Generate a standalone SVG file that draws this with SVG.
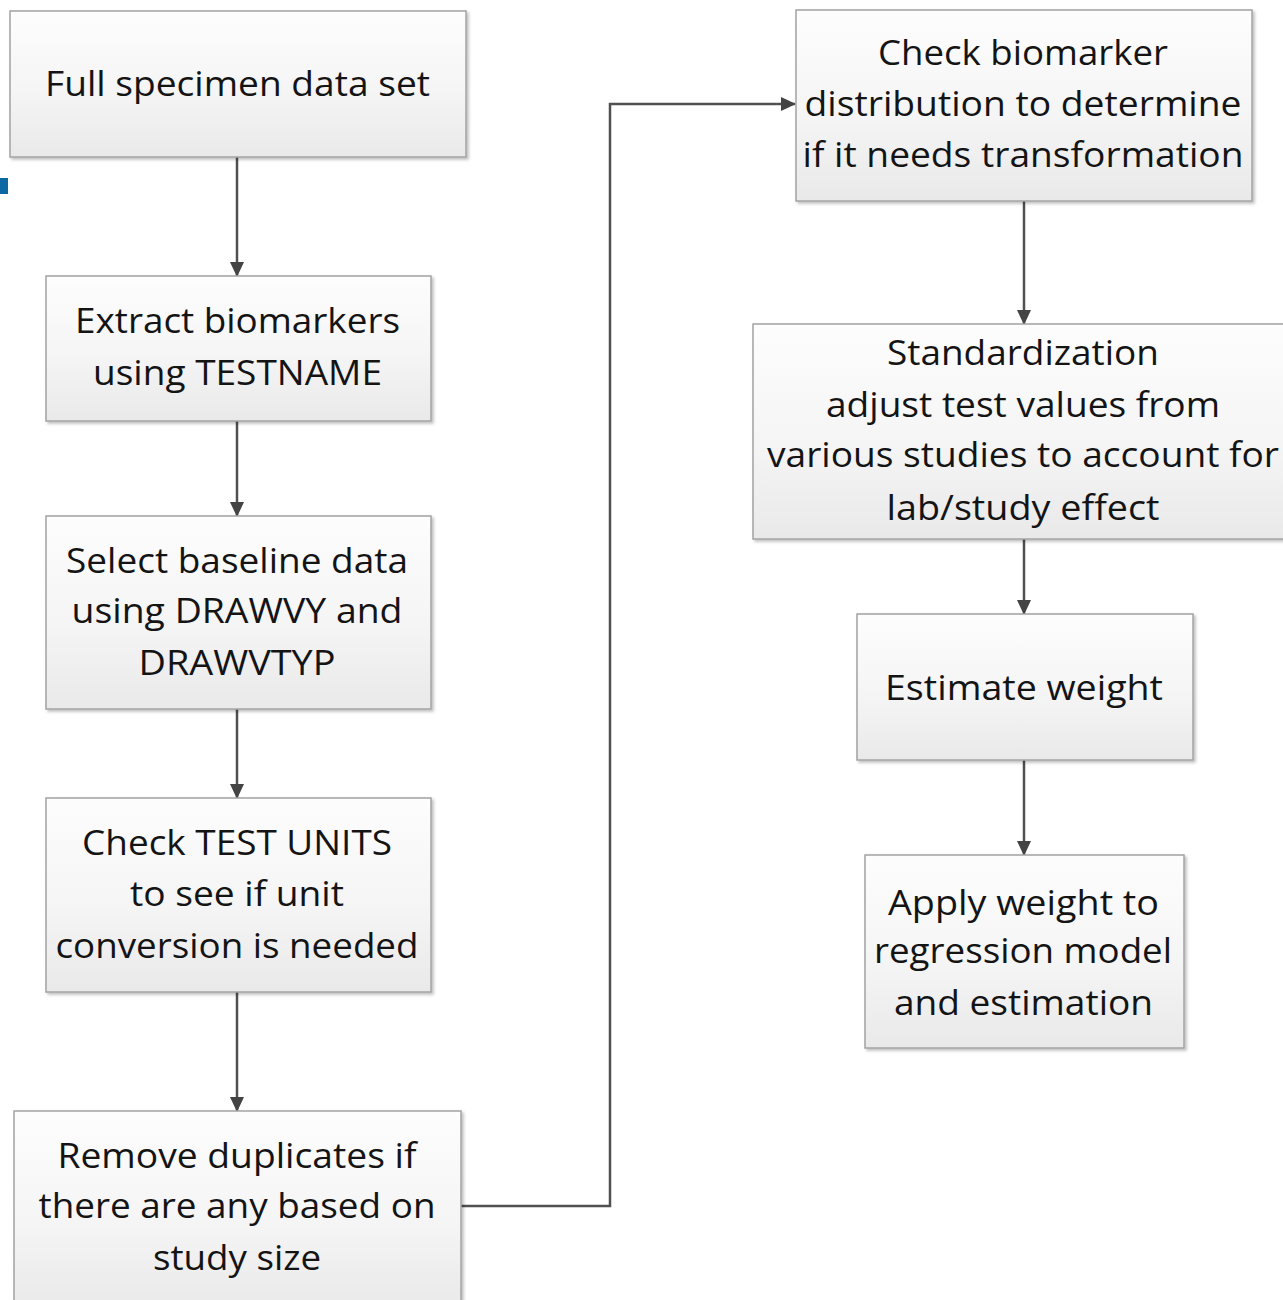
<svg xmlns="http://www.w3.org/2000/svg" width="1283" height="1300" viewBox="0 0 1283 1300">
<defs>
<linearGradient id="boxfill" x1="0" y1="0" x2="0" y2="1">
<stop offset="0" stop-color="#fdfdfd"/>
<stop offset="0.55" stop-color="#f5f5f5"/>
<stop offset="1" stop-color="#e9e9e9"/>
</linearGradient>
<filter id="shadow" x="-5%" y="-5%" width="112%" height="115%">
<feDropShadow dx="2" dy="2" stdDeviation="1.5" flood-color="#000" flood-opacity="0.25"/>
</filter>
<marker id="arrow" markerWidth="15" markerHeight="15" refX="14" refY="7" orient="auto" markerUnits="userSpaceOnUse">
<path d="M0,0 L15,7 L0,14 Z" fill="#444444"/>
</marker>
</defs>
<style>
.box{fill:url(#boxfill);stroke:#a3a3a3;stroke-width:1.5;filter:url(#shadow)}
.t{font-family:"Open Sans","Liberation Sans",sans-serif;font-size:35px;fill:#141414;text-anchor:middle}
.conn{fill:none;stroke:#505050;stroke-width:2.5;marker-end:url(#arrow)}
</style>
<rect width="1283" height="1300" fill="#ffffff"/>
<rect x="0" y="178" width="8" height="16" fill="#0b68a3"/>

<g id="connectors">
<line class="conn" x1="237" y1="157" x2="237" y2="276"/>
<line class="conn" x1="237" y1="421" x2="237" y2="516"/>
<line class="conn" x1="237" y1="709" x2="237" y2="798"/>
<line class="conn" x1="237" y1="992" x2="237" y2="1111"/>
<polyline class="conn" points="461,1206 610,1206 610,104 795,104"/>
<line class="conn" x1="1024" y1="201" x2="1024" y2="324"/>
<line class="conn" x1="1024" y1="539" x2="1024" y2="614"/>
<line class="conn" x1="1024" y1="760" x2="1024" y2="855"/>
</g>

<g id="n1">
<rect class="box" x="10" y="11" width="456" height="146"/>
<text class="t" x="237.5" y="96" textLength="385" lengthAdjust="spacingAndGlyphs">Full specimen data set</text>
</g>
<g id="n2">
<rect class="box" x="46" y="276" width="385" height="145"/>
<text class="t" x="237.5" y="333" textLength="325" lengthAdjust="spacingAndGlyphs">Extract biomarkers</text>
<text class="t" x="237.5" y="385" textLength="289" lengthAdjust="spacingAndGlyphs">using TESTNAME</text>
</g>
<g id="n3">
<rect class="box" x="46" y="516" width="385" height="193"/>
<text class="t" x="237" y="573" textLength="342" lengthAdjust="spacingAndGlyphs">Select baseline data</text>
<text class="t" x="237" y="623" textLength="331" lengthAdjust="spacingAndGlyphs">using DRAWVY and</text>
<text class="t" x="237" y="675" textLength="197" lengthAdjust="spacingAndGlyphs">DRAWVTYP</text>
</g>
<g id="n4">
<rect class="box" x="46" y="798" width="385" height="194"/>
<text class="t" x="237" y="855" textLength="310" lengthAdjust="spacingAndGlyphs">Check TEST UNITS</text>
<text class="t" x="237" y="906" textLength="214" lengthAdjust="spacingAndGlyphs">to see if unit</text>
<text class="t" x="237" y="958" textLength="363" lengthAdjust="spacingAndGlyphs">conversion is needed</text>
</g>
<g id="n5">
<rect class="box" x="14" y="1111" width="447" height="200"/>
<text class="t" x="237" y="1168" textLength="359" lengthAdjust="spacingAndGlyphs">Remove duplicates if</text>
<text class="t" x="237" y="1218" textLength="397" lengthAdjust="spacingAndGlyphs">there are any based on</text>
<text class="t" x="237" y="1270" textLength="168" lengthAdjust="spacingAndGlyphs">study size</text>
</g>
<g id="n6">
<rect class="box" x="796" y="10" width="456" height="191"/>
<text class="t" x="1023" y="65" textLength="290" lengthAdjust="spacingAndGlyphs">Check biomarker</text>
<text class="t" x="1023" y="116" textLength="437" lengthAdjust="spacingAndGlyphs">distribution to determine</text>
<text class="t" x="1023" y="167" textLength="441" lengthAdjust="spacingAndGlyphs">if it needs transformation</text>
</g>
<g id="n7">
<rect class="box" x="753" y="324" width="545" height="215"/>
<text class="t" x="1023" y="365" textLength="272" lengthAdjust="spacingAndGlyphs">Standardization</text>
<text class="t" x="1023" y="417" textLength="394" lengthAdjust="spacingAndGlyphs">adjust test values from</text>
<text class="t" x="1023" y="467" textLength="512" lengthAdjust="spacingAndGlyphs">various studies to account for</text>
<text class="t" x="1023" y="520" textLength="273" lengthAdjust="spacingAndGlyphs">lab/study effect</text>
</g>
<g id="n8">
<rect class="box" x="857" y="614" width="336" height="146"/>
<text class="t" x="1024" y="700" textLength="278" lengthAdjust="spacingAndGlyphs">Estimate weight</text>
</g>
<g id="n9">
<rect class="box" x="865" y="855" width="319" height="193"/>
<text class="t" x="1023.5" y="915" textLength="271" lengthAdjust="spacingAndGlyphs">Apply weight to</text>
<text class="t" x="1023" y="963" textLength="298" lengthAdjust="spacingAndGlyphs">regression model</text>
<text class="t" x="1023.5" y="1015" textLength="259" lengthAdjust="spacingAndGlyphs">and estimation</text>
</g>
</svg>
